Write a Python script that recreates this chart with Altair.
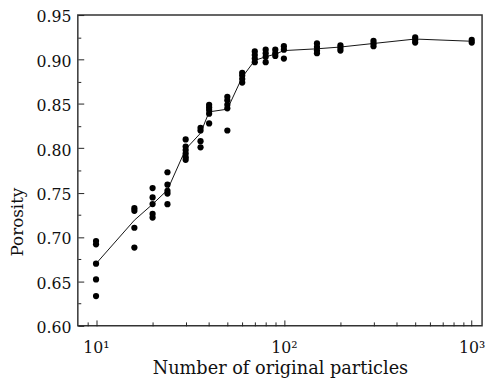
import altair as alt
import pandas as pd

# ---- data ----
group_n = [10, 16, 20, 24, 30, 36, 40, 50, 60, 70, 80, 90, 100, 150, 200, 300, 500, 1000]
group_porosity = [
    [0.6955, 0.6918, 0.670, 0.6523, 0.6335],
    [0.7325, 0.7295, 0.7105, 0.6882],
    [0.7552, 0.7446, 0.7372, 0.7261, 0.722],
    [0.773, 0.759, 0.752, 0.749, 0.737],
    [0.810, 0.802, 0.798, 0.794, 0.790, 0.787],
    [0.823, 0.820, 0.808, 0.801],
    [0.849, 0.846, 0.843, 0.839, 0.828],
    [0.858, 0.854, 0.849, 0.845, 0.820],
    [0.885, 0.882, 0.878, 0.874],
    [0.909, 0.905, 0.901, 0.897],
    [0.911, 0.907, 0.903, 0.897],
    [0.911, 0.907, 0.904],
    [0.915, 0.911, 0.901],
    [0.918, 0.914, 0.910, 0.907],
    [0.916, 0.913, 0.910],
    [0.921, 0.918, 0.915],
    [0.925, 0.922, 0.919],
    [0.922, 0.919],
]
line_n = [10, 16, 20, 24, 30, 36, 40, 50, 60, 70, 80, 90, 100, 150, 200, 300, 500, 1000]
line_porosity = [0.670, 0.719, 0.737, 0.753, 0.799, 0.817, 0.841, 0.844, 0.880, 0.899,
                 0.903, 0.906, 0.910, 0.912, 0.914, 0.918, 0.923, 0.9205]

x_major = [10, 100, 1000]
x_minor = [9, 20, 30, 40, 50, 60, 70, 80, 90, 200, 300, 400, 500, 600, 700, 800, 900]
y_major = [0.60, 0.65, 0.70, 0.75, 0.80, 0.85, 0.90, 0.95]
y_minor = [0.625, 0.675, 0.725, 0.775, 0.825, 0.875, 0.925]

points = pd.DataFrame(
    [{"n": n, "p": p} for n, ps in zip(group_n, group_porosity) for p in ps]
)
line = pd.DataFrame({"n": line_n, "p": line_porosity})

FONT = "DejaVu Serif"
xscale = alt.Scale(type="log", domain=[8, 1135], nice=False)
yscale = alt.Scale(domain=[0.60, 0.95], nice=False, zero=False)

x_major_axis = alt.Axis(
    values=x_major, orient="bottom", domain=False, grid=False,
    tickSize=alt.ExprRef("-6"), tickColor="#222", tickWidth=1,
    labelExpr="datum.value == 10 ? '10¹' : datum.value == 100 ? '10²' : '10³'",
    labelFont=FONT, labelFontSize=16, labelColor="#111", labelPadding=20,
    title="Number of original particles", titleFont=FONT, titleFontSize=18,
    titleFontWeight="normal", titleColor="#111", titlePadding=4,
)
y_major_axis = alt.Axis(
    values=y_major, orient="left", domain=False, grid=False, format=".2f",
    tickSize=alt.ExprRef("-6"), tickColor="#222", tickWidth=1,
    labelFont=FONT, labelFontSize=16, labelColor="#111", labelPadding=13,
    labelOffset=2,
    title="Porosity", titleFont=FONT, titleFontSize=17, titleFontWeight="normal",
    titleColor="#111", titleAngle=-90, titleX=-56, titleY=210,
    titleAlign="center", titleBaseline="alphabetic",
)
x_minor_axis = alt.Axis(
    values=x_minor, orient="bottom", domain=False, grid=False, labels=False,
    tickSize=alt.ExprRef("-4"), tickColor="#222", tickWidth=1, title=None,
)
y_minor_axis = alt.Axis(
    values=y_minor, orient="left", domain=False, grid=False, labels=False,
    tickSize=alt.ExprRef("-3"), tickColor="#222", tickWidth=1, title=None,
)

pts = alt.Chart(points).mark_circle(size=40, color="black", opacity=1).encode(
    x=alt.X("n:Q", scale=xscale, axis=x_major_axis),
    y=alt.Y("p:Q", scale=yscale, axis=y_major_axis),
)
ln = alt.Chart(line).mark_line(color="#111", strokeWidth=1).encode(
    x=alt.X("n:Q", scale=xscale, axis=x_minor_axis),
    y=alt.Y("p:Q", scale=yscale, axis=y_minor_axis),
)

chart = (
    alt.layer(ln, pts)
    .resolve_scale(x="independent", y="independent")
    .resolve_axis(x="independent", y="independent")
    .properties(
        width=411, height=316,
        autosize=alt.AutoSizeParams(type="none"),
        padding={"left": 71, "top": 4, "right": 4, "bottom": 60},
        background="white",
    )
    .configure_view(stroke="#333", strokeWidth=1.5)
)

chart.save("out.html", embed_options={"renderer": "svg", "actions": False})
